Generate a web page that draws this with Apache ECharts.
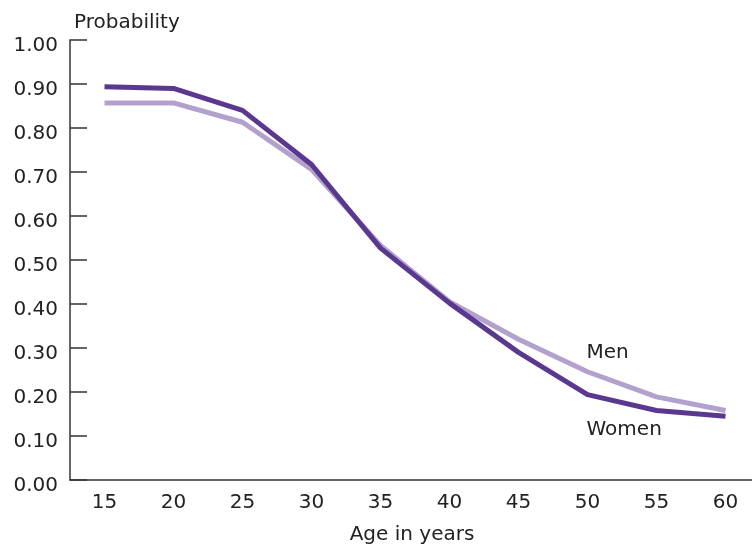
<!DOCTYPE html>
<html><head><meta charset="utf-8">
<script src="https://cdn.jsdelivr.net/npm/echarts@6/dist/echarts.min.js"></script>
<style>html,body{margin:0;padding:0;background:#fff}#c{width:752px;height:544px}</style>
</head><body><div id="c"></div>
<script>
const ages = ['15','20','25','30','35','40','45','50','55','60'];
const women = [0.894, 0.890, 0.840, 0.717, 0.527, 0.402, 0.290, 0.194, 0.158, 0.145];
const men = [0.857, 0.857, 0.813, 0.706, 0.533, 0.405, 0.320, 0.246, 0.189, 0.158];
const yTicks = [0,0.1,0.2,0.3,0.4,0.5,0.6,0.7,0.8,0.9,1.0];

const font = 'DejaVu Sans';
const txt = '#222';
const lbl = (text, pos, off) => ({show:true, formatter:text, position:pos, align:'left', offset:off, fontFamily:font, fontSize:20, color:txt});
const chart = echarts.init(document.getElementById('c'), null, {renderer:'canvas'});
chart.setOption({
  animation:false,
  backgroundColor:'#fff',
  title:{text:'Probability', left:69, top:8, textStyle:{fontFamily:font, fontSize:20, fontWeight:'normal', color:txt}},
  grid:{left:70, top:40, width:690, height:440, outerBoundsMode:'none', containLabel:false},
  xAxis:{
    type:'category', data:ages, boundaryGap:true,
    axisLine:{lineStyle:{color:'#333', width:1.5}},
    axisTick:{inside:true, length:11, alignWithLabel:true, lineStyle:{color:'#333', width:1.5}},
    axisLabel:{fontFamily:font, fontSize:20, color:txt, margin:13},
    name:'Age in years', nameLocation:'middle', nameGap:45,
    nameTextStyle:{fontFamily:font, fontSize:20, color:txt, padding:[0,6,0,0]}
  },
  yAxis:{
    type:'value', min:0, max:1, interval:0.1,
    splitLine:{show:false},
    axisLine:{show:true, lineStyle:{color:'#333', width:1.5}},
    axisTick:{show:true, inside:true, length:17, lineStyle:{color:'#333', width:1.5}},
    axisLabel:{fontFamily:font, fontSize:20, color:txt, margin:12,
      formatter:v=>{const t=yTicks.find(x=>Math.abs(x-v)<1e-6);return '{a|'+(t===undefined?v:t).toFixed(2)+'}';},
      rich:{a:{fontFamily:font, fontSize:20, color:txt, padding:[12,0,0,0]}}}
  },
  series:[
    {name:'Men', type:'line', symbol:'circle', symbolSize:0, showSymbol:true,
     data:men.map((v,i)=>i===7?{value:v,label:lbl('Men','top',[-1,-4])}:v),
     lineStyle:{color:'#b1a1cc', width:5}, itemStyle:{color:'#b1a1cc'}, z:2},
    {name:'Women', type:'line', symbol:'circle', symbolSize:0, showSymbol:true,
     data:women.map((v,i)=>i===7?{value:v,label:lbl('Women','bottom',[-1,20])}:v),
     lineStyle:{color:'#5b3890', width:5}, itemStyle:{color:'#5b3890'}, z:3}
  ]
});
</script></body></html>
